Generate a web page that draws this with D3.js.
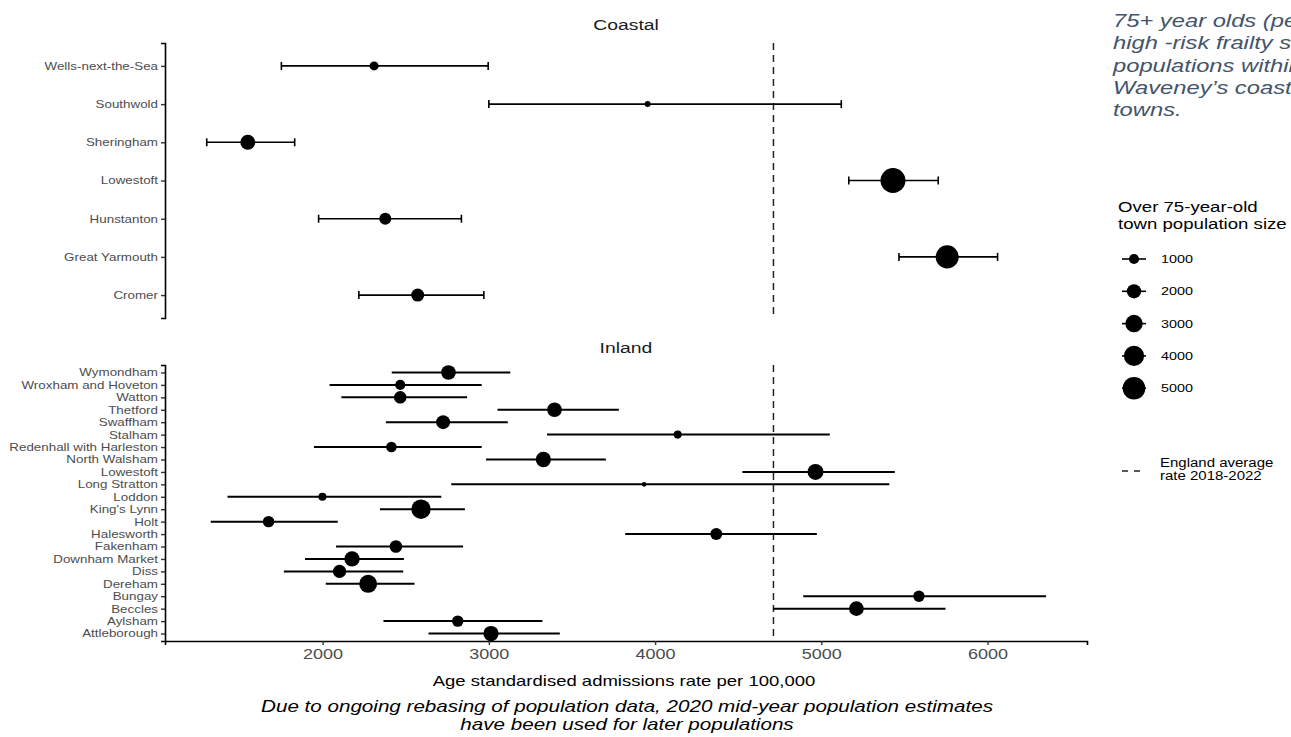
<!DOCTYPE html>
<html>
<head>
<meta charset="utf-8">
<script src="https://cdn.jsdelivr.net/npm/d3@7"></script>
<style>
  body { margin: 0; background: #fff; overflow: hidden; }
  svg { display: block; font-family: "Liberation Sans", Arial, sans-serif; }
</style>
</head>
<body>
<div id="chart"></div>
<script>
// Coastal towns (top to bottom)
const coastalTowns = ["Wells-next-the-Sea", "Southwold", "Sheringham", "Lowestoft", "Hunstanton", "Great Yarmouth", "Cromer"];
const coastalRate  = [2310, 3955, 1550, 5431, 2377, 5757, 2572];
const coastalLower = [1752, 3000, 1303, 5165, 1976, 5467, 2218];
const coastalUpper = [2996, 5120, 1832, 5703, 2835, 6060, 2970];
const coastalPop   = [800, 350, 2200, 6100, 1400, 5200, 1650];

// Inland towns (top to bottom)
const inlandTowns = ["Wymondham", "Wroxham and Hoveton", "Watton", "Thetford", "Swaffham", "Stalham",
  "Redenhall with Harleston", "North Walsham", "Lowestoft", "Long Stratton", "Loddon", "King's Lynn",
  "Holt", "Halesworth", "Fakenham", "Downham Market", "Diss", "Dereham", "Bungay", "Beccles", "Aylsham", "Attleborough"];
const inlandRate  = [2757, 2467, 2467, 3395, 2725, 4136, 2414, 3328, 4965, 3934, 1999, 2592, 1675, 4368, 2441, 2177, 2102, 2274, 5587, 5211, 2813, 3013];
const inlandLower = [2416, 2042, 2113, 3052, 2381, 3350, 1948, 2983, 4525, 2774, 1428, 2345, 1327, 3820, 2081, 1894, 1767, 2019, 4891, 4711, 2366, 2637];
const inlandUpper = [3129, 2957, 2869, 3782, 3114, 5051, 2957, 3704, 5442, 5409, 2714, 2856, 2091, 4973, 2845, 2489, 2485, 2553, 6352, 5747, 3322, 3427];
const inlandPop   = [2100, 1000, 1550, 2100, 1900, 630, 1100, 2300, 2500, 210, 630, 3700, 1270, 1400, 1550, 2300, 1750, 3150, 1270, 2100, 1270, 2300];

const xTicks = [2000, 3000, 4000, 5000, 6000];
const sizeBreaks = [1000, 2000, 3000, 4000, 5000];
const englandAverage = 4712;

const width = 1291, height = 737;
// the original picture is a bit wider than tall, text looks stretched sideways
const sx = 1.25;

const svg = d3.select("#chart").append("svg")
  .attr("width", width)
  .attr("height", height);

const x = d3.scaleLinear().domain([1052, 6598]).range([165, 1087]);
const r = d3.scaleSqrt().domain([0, 5000]).range([0, 11.3]);

// text drawn at (tx, ty) and widened by sx
function addText(parent, tx, ty, txt, size, opts) {
  opts = opts || {};
  return parent.append("g")
    .attr("transform", "translate(" + tx + "," + ty + ") scale(" + sx + ",1)")
    .append("text")
    .attr("text-anchor", opts.anchor || "start")
    .style("font-size", size + "px")
    .style("font-style", opts.italic ? "italic" : "normal")
    .style("fill", opts.fill || "#000")
    .text(txt);
}

function makeRows(towns, rate, lower, upper, pop) {
  return towns.map((t, i) => ({ town: t, rate: rate[i], lower: lower[i], upper: upper[i], pop: pop[i] }));
}

const panels = [
  { title: "Coastal", titleY: 30, top: 43, bottom: 318, caps: true, lineW: 1.6,
    rows: makeRows(coastalTowns, coastalRate, coastalLower, coastalUpper, coastalPop) },
  { title: "Inland", titleY: 353, top: 365, bottom: 641, caps: false, lineW: 2,
    rows: makeRows(inlandTowns, inlandRate, inlandLower, inlandUpper, inlandPop) }
];

panels.forEach((p) => {
  const y = d3.scalePoint()
    .domain(p.rows.map(d => d.town))
    .range([p.top, p.bottom])
    .padding(0.6);

  const g = svg.append("g");

  // panel title
  addText(g, (x.range()[0] + x.range()[1]) / 2, p.titleY, p.title, 15.5, { anchor: "middle", fill: "#1a1a1a" });

  // y axis
  const yAxis = g.append("g")
    .attr("transform", "translate(" + x.range()[0] + ",0)")
    .call(d3.axisLeft(y).tickSize(4).tickPadding(3));
  yAxis.select(".domain").attr("stroke", "#000").attr("stroke-width", 1.6);
  yAxis.selectAll(".tick line").attr("stroke", "#333").attr("stroke-width", 1.4);
  yAxis.selectAll(".tick text")
    .attr("x", -7 / sx)
    .attr("transform", "scale(" + sx + ",1)")
    .style("font-size", "10.7px")
    .style("fill", "#4d4d4d")
    .style("font-family", "'Liberation Sans', Arial, sans-serif");

  // England average
  g.append("line")
    .attr("x1", x(englandAverage)).attr("x2", x(englandAverage))
    .attr("y1", p.top).attr("y2", p.bottom)
    .attr("stroke", "#222")
    .attr("stroke-width", 1.5)
    .attr("stroke-dasharray", "7,5");

  // error bars
  const bars = g.append("g").selectAll("g")
    .data(p.rows)
    .enter().append("g");

  bars.append("line")
    .attr("x1", d => x(d.lower)).attr("x2", d => x(d.upper))
    .attr("y1", d => y(d.town)).attr("y2", d => y(d.town))
    .attr("stroke", "#000")
    .attr("stroke-width", p.lineW);

  if (p.caps) {
    ["lower", "upper"].forEach((k) => {
      bars.append("line")
        .attr("x1", d => x(d[k])).attr("x2", d => x(d[k]))
        .attr("y1", d => y(d.town) - 4).attr("y2", d => y(d.town) + 4)
        .attr("stroke", "#000")
        .attr("stroke-width", p.lineW);
    });
  }

  bars.append("circle")
    .attr("cx", d => x(d.rate))
    .attr("cy", d => y(d.town))
    .attr("r", d => r(d.pop))
    .style("fill", "#000");

  // x axis only on the bottom panel
  if (p.title === "Inland") {
    const xAxis = g.append("g")
      .attr("transform", "translate(0," + p.bottom + ")")
      .call(d3.axisBottom(x).tickValues(xTicks).tickFormat(d3.format("d")).tickSize(4).tickPadding(4));
    xAxis.select(".domain").attr("stroke", "#000").attr("stroke-width", 1.6);
    xAxis.selectAll(".tick line").attr("stroke", "#333").attr("stroke-width", 1.4);
    xAxis.selectAll(".tick text")
      .attr("transform", "scale(" + sx + ",1)")
      .style("font-size", "14.4px")
      .style("fill", "#4d4d4d")
      .style("font-family", "'Liberation Sans', Arial, sans-serif");
  }
});

// x axis title
addText(svg, 624, 686, "Age standardised admissions rate per 100,000", 14.8, { anchor: "middle" });

// caption
const caption = ["Due to ongoing rebasing of population data, 2020 mid-year population estimates",
  "have been used for later populations"];
caption.forEach((c, i) => addText(svg, 627, 712 + i * 18, c, 16.5, { anchor: "middle", italic: true }));

// side note (runs off the right edge like the original)
const note = ["75+ year olds (people) with", "high -risk frailty status in", "populations within", "Waveney\u2019s coastal", "towns."];
note.forEach((t, i) => addText(svg, 1113, 27 + i * 22.3, t, 19, { italic: true, fill: "#44546a" }));

// size legend
const legend = svg.append("g");
["Over 75-year-old", "town population size"].forEach((t, i) => addText(legend, 1118, 212 + i * 17, t, 14.9));

const items = legend.selectAll("g.item")
  .data(sizeBreaks)
  .enter().append("g")
  .attr("class", "item")
  .attr("transform", (d, i) => "translate(0," + (259 + i * 32.3) + ")");

items.append("line")
  .attr("x1", 1122).attr("x2", 1146)
  .attr("stroke", "#000").attr("stroke-width", 1.6);
items.append("circle")
  .attr("cx", 1134)
  .attr("r", d => r(d))
  .style("fill", "#000");
items.each(function(d) {
  addText(d3.select(this), 1161, 4, d, 11.5);
});

// England average legend
legend.append("line")
  .attr("x1", 1122).attr("x2", 1146)
  .attr("y1", 471).attr("y2", 471)
  .attr("stroke", "#222").attr("stroke-width", 1.5)
  .attr("stroke-dasharray", "6,6");
["England average", "rate 2018-2022"].forEach((t, i) => addText(legend, 1160, 467 + i * 13, t, 12));
</script>
</body>
</html>
